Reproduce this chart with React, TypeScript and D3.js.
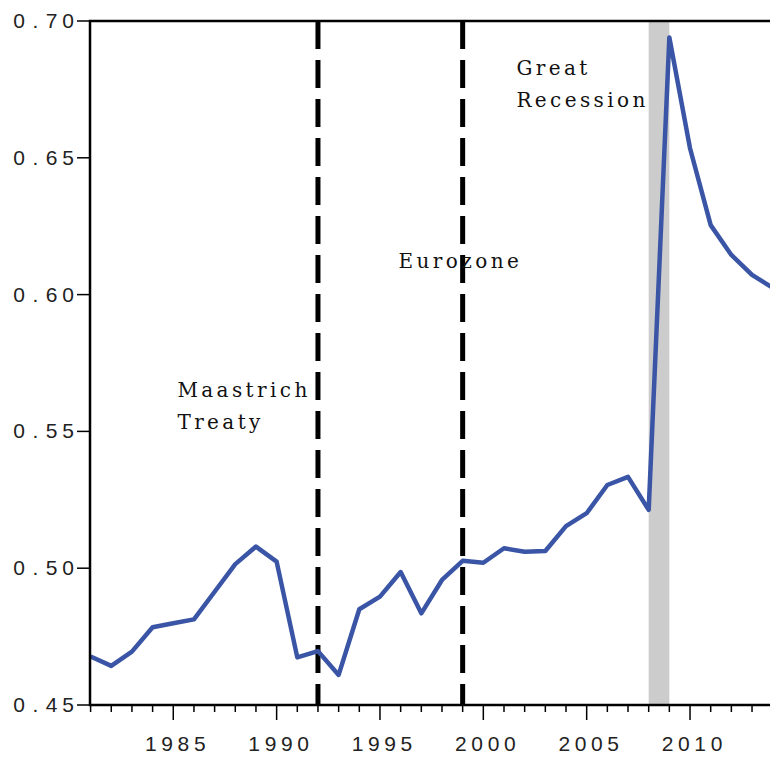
import { useEffect, useRef } from 'react'
import * as d3 from 'd3'

// Debt-to-GDP style ratio, 1981-2014
const years = [
  1981, 1982, 1983, 1984, 1985, 1986, 1987, 1988, 1989, 1990, 1991, 1992, 1993, 1994, 1995, 1996, 1997,
  1998, 1999, 2000, 2001, 2002, 2003, 2004, 2005, 2006, 2007, 2008, 2009, 2010, 2011, 2012, 2013, 2014,
]
const values = [
  0.4677, 0.4643, 0.4695, 0.4784, 0.4799, 0.4813, 0.4914, 0.5015, 0.5079, 0.5024, 0.4674, 0.4697, 0.461,
  0.485, 0.4896, 0.4986, 0.4835, 0.4957, 0.5027, 0.502, 0.5073, 0.506, 0.5063, 0.5154, 0.5201, 0.5304,
  0.5334, 0.5213, 0.694, 0.6535, 0.6254, 0.6145, 0.6072, 0.6025,
]
const yTicks = [0.45, 0.5, 0.55, 0.6, 0.65, 0.7]
const xMajorTicks = [1985, 1990, 1995, 2000, 2005, 2010]
const eventYears = [1992, 1999]
const recession = [2008, 2009]
const annotations = [
  { year: 1985.2, value: 0.5626, lines: ['Maastrich', 'Treaty'] },
  { year: 1995.9, value: 0.6097, lines: ['Eurozone'] },
  { year: 2001.6, value: 0.6803, lines: ['Great', 'Recession'] },
]

const PITCH = 16.3

// old-style fixed pitch labels: every char on its own slot
function spaced(sel: d3.Selection<SVGTextElement, unknown, null, undefined>, s: string, x0: number) {
  s.split('').forEach((c, i) => {
    sel.append('tspan').attr('x', x0 + i * PITCH).text(c)
  })
}

export default function App() {
  const svgRef = useRef<SVGSVGElement>(null)

  useEffect(() => {
    if (!svgRef.current) return
    const svg = d3.select(svgRef.current)
    svg.selectAll('*').remove()

    const x = d3.scaleLinear().domain([1981, 2014]).range([90.6, 772.7])
    const y = d3.scaleLinear().domain([0.45, 0.7]).range([705, 21])
    const left = x(1981) - 0.6
    const bottom = y(0.45)
    const tickFont = '"Liberation Sans", Arial, sans-serif'

    // recession band
    svg
      .append('rect')
      .attr('x', x(recession[0]))
      .attr('y', y(0.7))
      .attr('width', x(recession[1]) - x(recession[0]))
      .attr('height', bottom - y(0.7))
      .attr('fill', '#cccccc')

    // event lines
    eventYears.forEach((yr) => {
      svg
        .append('line')
        .attr('x1', x(yr))
        .attr('x2', x(yr))
        .attr('y1', y(0.7))
        .attr('y2', bottom)
        .attr('stroke', '#000')
        .attr('stroke-width', 5)
        .attr('stroke-dasharray', '28 11')
    })

    // series
    const line = d3
      .line<number>()
      .x((_, i) => x(years[i]))
      .y((d) => y(d))
    svg
      .append('path')
      .datum(values)
      .attr('fill', 'none')
      .attr('stroke', '#3a55a5')
      .attr('stroke-width', 4.5)
      .attr('stroke-linejoin', 'round')
      .attr('d', line)

    // frame
    svg
      .append('rect')
      .attr('x', left)
      .attr('y', y(0.7))
      .attr('width', x(2014) - left)
      .attr('height', bottom - y(0.7))
      .attr('fill', 'none')
      .attr('stroke', '#000')
      .attr('stroke-width', 2.5)

    // y ticks
    const yg = svg.append('g')
    yTicks.forEach((t) => {
      yg.append('line')
        .attr('x1', left - 13)
        .attr('x2', left)
        .attr('y1', y(t))
        .attr('y2', y(t))
        .attr('stroke', '#000')
        .attr('stroke-width', 1.5)
      const label = d3.format('.2f')(t)
      const txt = yg
        .append('text')
        .attr('y', y(t) + 7)
        .attr('text-anchor', 'middle')
        .attr('font-family', tickFont)
        .attr('font-size', '21px')
        .attr('fill', '#222')
      spaced(txt as any, label, left - 22 - (label.length - 1) * PITCH)
    })

    // x ticks: minor every year, major every 5
    const xg = svg.append('g')
    d3.range(1981, 2015).forEach((yr) => {
      const major = xMajorTicks.includes(yr)
      xg.append('line')
        .attr('x1', x(yr))
        .attr('x2', x(yr))
        .attr('y1', bottom)
        .attr('y2', bottom + (major ? 15 : 7))
        .attr('stroke', '#000')
        .attr('stroke-width', 1.5)
    })
    xMajorTicks.forEach((yr) => {
      const label = String(yr)
      const txt = xg
        .append('text')
        .attr('y', 751)
        .attr('text-anchor', 'middle')
        .attr('font-family', tickFont)
        .attr('font-size', '21px')
        .attr('fill', '#222')
      spaced(txt as any, label, x(yr) + 2 - ((label.length - 1) * PITCH) / 2)
    })

    // annotations
    annotations.forEach((a) => {
      const t = svg
        .append('text')
        .attr('x', x(a.year))
        .attr('y', y(a.value))
        .attr('font-family', '"DejaVu Serif", serif')
        .attr('font-size', '20px')
        .attr('letter-spacing', '3.4px')
        .attr('fill', '#111')
      a.lines.forEach((l, i) => {
        t.append('tspan')
          .attr('x', x(a.year))
          .attr('dy', i === 0 ? 0 : 32)
          .text(l)
      })
    })
  }, [])

  return (
    <svg
      ref={svgRef}
      width={770}
      height={761}
      style={{ position: 'absolute', left: 0, top: 0, background: '#fff' }}
    />
  )
}
